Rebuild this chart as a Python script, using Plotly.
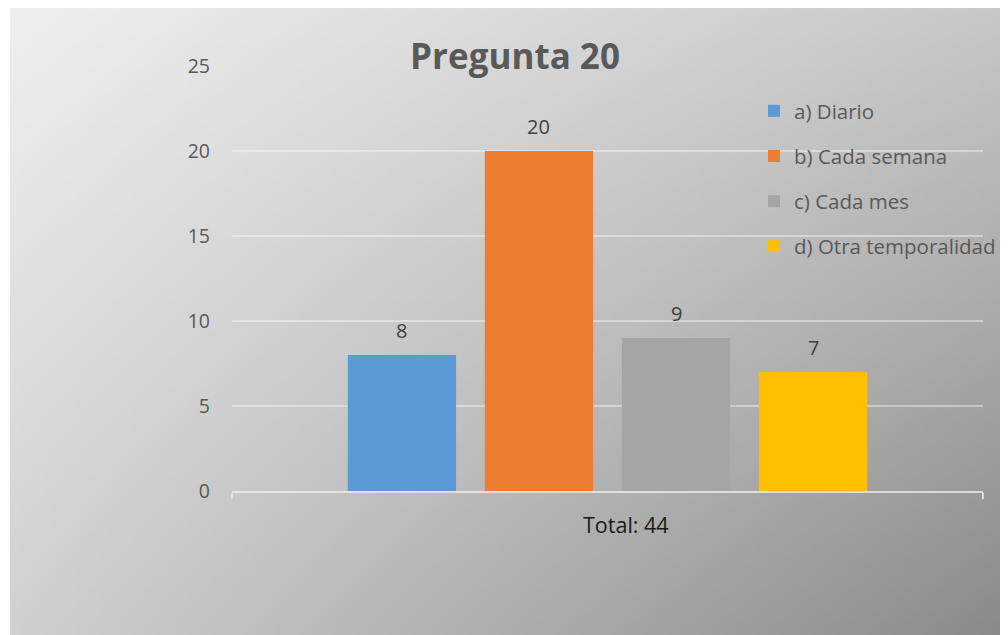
import base64, struct, zlib
import plotly.graph_objects as go

# ---------------- data ----------------
category = ["Total: 44"]
series_names = ["a) Diario", "b) Cada semana", "c) Cada mes", "d) Otra temporalidad"]
series_values = [8, 20, 9, 7]
series_colors = ["#5B9BD5", "#ED7D31", "#A5A5A5", "#FFC000"]
y_ticks = [0, 5, 10, 15, 20, 25]
title_text = "Pregunta 20"

# ---------------- layout geometry (page pixels) ----------------
OFF = 8                      # browser body margin
W, H = 1008 - OFF, 635 - OFF  # figure size
PL, PR, PT, PB = 232, 983, 66, 491  # plot area edges in page pixels
BARGAP = 0.27
BARGROUPGAP = 0.21


def px_x(px):
    return (px - PL) / (PR - PL)


def px_y(py):
    return (PB - py) / (PB - PT)


# ---------------- gradient background as PNG ----------------
def gradient_png(w, h, tl, tr, bl, br):
    raw = b""
    for j in range(h):
        v = j / (h - 1)
        row = b"\x00"
        for i in range(w):
            u = i / (w - 1)
            c = tl * (1 - u) * (1 - v) + tr * u * (1 - v) + bl * (1 - u) * v + br * u * v
            c = int(round(c))
            row += bytes((c, c, c))
        raw += row

    def chunk(t, d):
        return struct.pack(">I", len(d)) + t + d + struct.pack(">I", zlib.crc32(t + d) & 0xffffffff)

    png = b"\x89PNG\r\n\x1a\n"
    png += chunk(b"IHDR", struct.pack(">IIBBBBB", w, h, 8, 2, 0, 0, 0))
    png += chunk(b"IDAT", zlib.compress(raw, 9))
    png += chunk(b"IEND", b"")
    return "data:image/png;base64," + base64.b64encode(png).decode()


bg_uri = gradient_png(160, 100, 239, 199, 208, 138)

FONT = "Open Sans"

fig = go.Figure()
for name, val, col in zip(series_names, series_values, series_colors):
    fig.add_trace(go.Bar(
        x=category, y=[val], name=name, legendgroup=name,
        marker=dict(color=col, line=dict(width=0)),
    ))

# data labels above each bar
slot = (1 - BARGAP) * (PR - PL) / len(series_values)
for i, val in enumerate(series_values):
    fig.add_annotation(
        x=category[0], y=val, xref="x", yref="y",
        xshift=(i - (len(series_values) - 1) / 2) * slot, yshift=25,
        text=str(val), showarrow=False, xanchor="center", yanchor="middle",
        font=dict(family=FONT, size=20, color="#404040"),
    )

fig.update_layout(
    width=W, height=H,
    margin=dict(l=PL - OFF, r=W - (PR - OFF), t=PT - OFF, b=H - (PB - OFF),
                autoexpand=False),
    paper_bgcolor="white",
    plot_bgcolor="rgba(0,0,0,0)",
    barmode="group",
    bargap=BARGAP,
    bargroupgap=BARGROUPGAP,
    font=dict(family=FONT, color="#595959"),
    title=dict(
        text="<b>" + title_text + "</b>",
        font=dict(family=FONT, size=35, color="#595959"),
        x=px_x(515), xref="paper", xanchor="center",
        y=1 - (57 - OFF) / H, yref="container", yanchor="middle",
    ),
    legend=dict(
        x=px_x(754), y=px_y(91), xanchor="left", yanchor="top",
        bgcolor="rgba(0,0,0,0)",
        font=dict(family=FONT, size=20.5, color="#595959"),
        tracegroupgap=15.5,
        traceorder="grouped",
    ),
    showlegend=True,
)

fig.update_yaxes(
    range=[0, 25], tickvals=y_ticks,
    showgrid=True, gridcolor="rgba(255,255,255,0.4)", gridwidth=1.5,
    zeroline=False, showline=False,
    tickfont=dict(family=FONT, size=19.5, color="#595959"),
    ticks="", ticklabelstandoff=21,
)
fig.update_xaxes(
    showgrid=False, showticklabels=False,
    showline=True, linecolor="rgba(235,235,235,0.8)", linewidth=1.5,
    ticks="outside", tickson="boundaries", ticklen=6,
    tickcolor="rgba(235,235,235,0.8)", tickwidth=1.5,
)

# category label
fig.add_annotation(
    text=category[0], x=px_x(626), y=px_y(524), xref="paper", yref="paper",
    showarrow=False, xanchor="center", yanchor="middle",
    font=dict(family=FONT, size=21.5, color="#1a1a1a"),
)

# background gradient
fig.add_layout_image(
    source=bg_uri, xref="paper", yref="paper",
    x=px_x(10), y=px_y(8), sizex=(1008 - 10) / (PR - PL), sizey=(635 - 8) / (PB - PT),
    xanchor="left", yanchor="top", sizing="stretch", layer="below",
)

# light swoosh in the top white strip
pts = [(778, 8), (800, 0), (920, 0), (867, 8)]
path = "M " + " L ".join(f"{px_x(a)},{px_y(b)}" for a, b in pts) + " Z"
fig.add_shape(type="path", path=path, xref="paper", yref="paper",
              fillcolor="#efefef", line=dict(width=0), layer="below")

fig.write_html("out.html")
